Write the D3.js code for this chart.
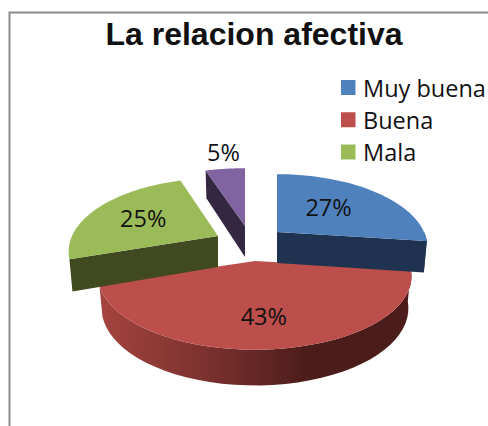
<!DOCTYPE html>
<meta charset="utf-8">

<style>
  body { margin: 0; background: #fff; }
  text { fill: #111; }
  .title { font: bold 32px "Liberation Sans", sans-serif; }
  .legend { font: 23.5px "Open Sans", sans-serif; }
  .pct { font: 23.5px "Open Sans", sans-serif; }
</style>

<svg class="chart"></svg>

<script src="https://d3js.org/d3.v7.min.js"></script>
<script>

  var titleText  = "La relacion afectiva";
  var categories = ["Muy buena", "Buena", "Mala", ""];
  var values     = [27, 43, 25, 5];
  var legendRows = ["Muy buena", "Buena", "Mala"];

  var topColors  = ["#4f81bd", "#bc4e4b", "#9bbb59", "#8064a2"];
  var sideColors = ["#1f3350", "#7a2f2c", "#40491f", "#332741"];

  // per slice: exploded apex, radius, where the percent label sits
  var apexX   = [277, 255, 218, 245];
  var apexY   = [232, 261, 236, 226];
  var radius  = [147, 153, 146, 153];
  var labelAt = [0.5, 0.7, 0.6, 1.3];
  var labelDx = [0, -3, -1, 3];
  var labelDy = [-3, -2, 0, -3];

  var width  = 488;
  var height = 426;

  var ry          = 70;    // vertical radius before perspective
  var perspective = 0.211; // back of the pie shrinks, front grows
  var depth       = 31;

  var chart = d3.select(".chart")
      .attr("width", width)
      .attr("height", height);

  var arcs = d3.pie().sort(null)(values);

  function scaleAt(angle, f) {
    return 1 / (1 + perspective * f * Math.cos(angle));
  }

  function topPoint(i, angle, f) {
    var s = scaleAt(angle, f);
    return [apexX[i] + radius[i] * f * Math.sin(angle) * s,
            apexY[i] - ry * f * Math.cos(angle) * s];
  }

  function bottomPoint(i, angle, f) {
    var s = scaleAt(angle, f);
    return [apexX[i] + 0.98 * radius[i] * f * Math.sin(angle) * s,
            apexY[i] - ry * f * Math.cos(angle) * s + depth * Math.pow(s, 0.6)];
  }

  function rimAngles(a0, a1) {
    return d3.range(0, 41).map(function(k) { return a0 + (a1 - a0) * k / 40; });
  }

  var line = d3.line();

  var defs = chart.append("defs");
  var redRim = defs.append("linearGradient")
      .attr("id", "redRim")
      .attr("gradientUnits", "userSpaceOnUse")
      .attr("x1", 100).attr("x2", 410).attr("y1", 0).attr("y2", 0);
  redRim.append("stop").attr("offset", 0).attr("stop-color", "#a5433f");
  redRim.append("stop").attr("offset", 0.35).attr("stop-color", "#7a312e");
  redRim.append("stop").attr("offset", 0.68).attr("stop-color", "#4b1c1a");
  redRim.append("stop").attr("offset", 1).attr("stop-color", "#4b1c1a");

  // frame, only top and left are in the picture
  chart.append("path")
      .attr("d", "M9.5," + height + "V12.5H" + width)
      .attr("fill", "none")
      .attr("stroke", "#8c8c8c")
      .attr("stroke-width", 2);

  chart.append("text")
      .attr("class", "title")
      .attr("x", 254)
      .attr("y", 45)
      .attr("text-anchor", "middle")
      .text(titleText);

  // red goes first, the exploded slices overlap it
  [1, 2, 0, 3].forEach(function(i) {
    var a0 = arcs[i].startAngle;
    var a1 = arcs[i].endAngle;
    var g  = chart.append("g");
    var angles = rimAngles(a0, a1);
    var topRim = angles.map(function(a) { return topPoint(i, a, 1); });

    if (i == 1) {
      var bottomRim = angles.map(function(a) { return bottomPoint(i, a, 1); }).reverse();
      g.append("path")
          .attr("d", line(topRim.concat(bottomRim)) + "Z")
          .attr("fill", "url(#redRim)");
    }
    if (i == 0) {
      // front cut face, plus the bit of rim past 90 degrees
      var rimPart = rimAngles(Math.PI / 2, a1);
      g.append("path")
          .attr("d", line(rimPart.map(function(a) { return topPoint(i, a, 1); })
            .concat(rimPart.map(function(a) { return bottomPoint(i, a, 1); }).reverse())) + "Z")
          .attr("fill", sideColors[i]);
    }
    if (i == 0 || i == 2 || i == 3) {
      var cut = i == 0 ? a1 : a0;
      g.append("path")
          .attr("d", line([topPoint(i, cut, 0), topPoint(i, cut, 1),
                           bottomPoint(i, cut, 1), bottomPoint(i, cut, 0)]) + "Z")
          .attr("fill", sideColors[i]);
    }

    g.append("path")
        .attr("d", line([[apexX[i], apexY[i]]].concat(topRim)) + "Z")
        .attr("fill", topColors[i]);
  });

  chart.append("g").selectAll("text")
      .data(arcs)
      .enter().append("text")
          .attr("class", "pct")
          .attr("text-anchor", "middle")
          .attr("dominant-baseline", "central")
          .attr("x", function(d, i) { return topPoint(i, (d.startAngle + d.endAngle) / 2, labelAt[i])[0] + labelDx[i]; })
          .attr("y", function(d, i) { return topPoint(i, (d.startAngle + d.endAngle) / 2, labelAt[i])[1] + labelDy[i]; })
          .text(function(d) { return d.value + "%"; });

  var legendY = d3.scalePoint()
      .domain(legendRows)
      .range([87.5, 152]);

  var legend = chart.append("g").selectAll("g")
      .data(legendRows)
      .enter().append("g")
          .attr("transform", function(d) { return "translate(341," + legendY(d) + ")"; });

  legend.append("rect")
      .attr("y", -7.5)
      .attr("width", 14.5)
      .attr("height", 15)
      .attr("fill", function(d, i) { return topColors[i]; });

  legend.append("text")
      .attr("class", "legend")
      .attr("x", 22)
      .attr("dominant-baseline", "central")
      .text(function(d) { return d; });

</script>
